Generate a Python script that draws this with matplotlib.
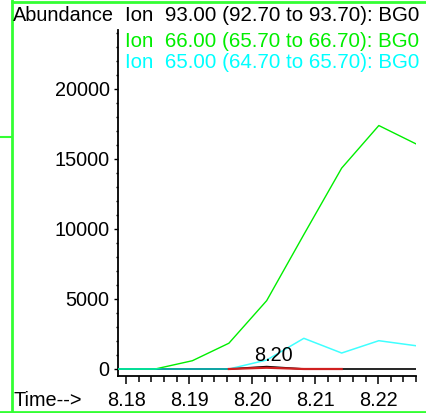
import matplotlib
matplotlib.use('Agg')
from matplotlib import pyplot as plt
from matplotlib.lines import Line2D
from matplotlib.ticker import MultipleLocator

plt.rcParams['font.family'] = ['Liberation Sans', 'DejaVu Sans']

# scan times (min)
times = [8.1787, 8.1846, 8.1905, 8.1963, 8.2023, 8.2082, 8.2142, 8.2201, 8.2260]
# ion 93 (black)
ion93 = [0, 0, 0, 0, 170, 0, 0, 0, 0]
# ion 66 (green)
ion66 = [0, 0, 590, 1840, 4880, 9600, 14340, 17380, 16070]
# ion 65 (cyan)
ion65 = [0, 0, 0, 0, 640, 2190, 1140, 2020, 1660]
# integrated peak segment (red)
peak_times = [8.1963, 8.2023, 8.2082, 8.2142]
peak_vals = [0, 90, 0, 0]

titles = ['Ion  93.00 (92.70 to 93.70): BG0',
          'Ion  66.00 (65.70 to 66.70): BG0',
          'Ion  65.00 (64.70 to 65.70): BG0']
title_colors = ['black', '#00ee00', '#00ffff']
peak_label = '8.20'
peak_label_pos = (8.2033, 590)

fs = 14.3
fig = plt.figure(figsize=(4.26, 4.13), dpi=100)
ax = fig.add_axes([118 / 426, 37 / 413, 298 / 426, 346 / 413])

ax.plot(times, ion93, color='black', lw=1.2, zorder=2)
ax.plot(times, ion66, color='#00ee00', lw=1.0, zorder=3)
ax.plot(times, ion65, color='#00ffff', lw=1.1, alpha=0.75, zorder=4)
ax.plot(peak_times, peak_vals, color='#d02020', lw=1.6, zorder=5)

ax.text(peak_label_pos[0], peak_label_pos[1], peak_label, fontsize=fs,
        ha='center', va='baseline', zorder=6)

ax.set_xlim(8.1787, 8.2260)
ax.set_ylim(-500, 24200)
ax.xaxis.set_major_locator(MultipleLocator(0.01))
ax.xaxis.set_minor_locator(MultipleLocator(0.002))
ax.yaxis.set_major_locator(MultipleLocator(5000))
ax.yaxis.set_minor_locator(MultipleLocator(1000))
ax.xaxis.set_major_formatter(plt.FormatStrFormatter('%.2f'))

for s in ['top', 'right']:
    ax.spines[s].set_visible(False)
for s in ['left', 'bottom']:
    ax.spines[s].set_linewidth(1.3)

ax.tick_params(axis='x', which='major', direction='out', length=6, width=1.1,
               labelsize=fs, pad=5)
ax.tick_params(axis='x', which='minor', direction='out', length=4.5, width=1.1)
ax.tick_params(axis='y', which='major', direction='out', length=3, width=1.0,
               labelsize=fs, pad=3)
ax.tick_params(axis='y', which='minor', direction='out', length=1.5, width=1.0)

# header texts
fig.text(13 / 426, 1 - 21 / 413, 'Abundance', fontsize=fs, va='baseline')
baselines = [21, 46.7, 68.3]
for t, c, b in zip(titles, title_colors, baselines):
    fig.text(125 / 426, 1 - b / 413, t, fontsize=14.8, color=c, va='baseline')
fig.text(13 / 426, 1 - 406.5 / 413, 'Time-->', fontsize=fs, va='baseline')

# green window frame
frame = '#33ff33'
fig.add_artist(Line2D([11.5 / 426, 11.5 / 426], [0, 1], color=frame, lw=2.0,
                      transform=fig.transFigure))
fig.add_artist(Line2D([11.5 / 426, 1], [1 - 1.5 / 413, 1 - 1.5 / 413], color=frame,
                      lw=2.0, transform=fig.transFigure))
fig.add_artist(Line2D([0, 1], [1 - 411.5 / 413, 1 - 411.5 / 413], color=frame,
                      lw=2.0, transform=fig.transFigure))
fig.add_artist(Line2D([0, 11.5 / 426], [1 - 136.5 / 413, 1 - 136.5 / 413],
                      color=frame, lw=1.5, transform=fig.transFigure))

fig.savefig('out.png', dpi=100)
